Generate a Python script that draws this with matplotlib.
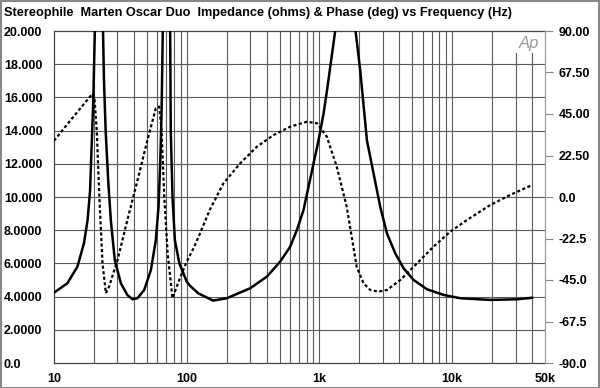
import matplotlib
matplotlib.use("Agg")
import matplotlib.pyplot as plt
from matplotlib.patches import Rectangle

# impedance (ohms)
imp_freq = [10, 12.6, 15, 16.8, 17.9, 18.7, 19.2, 19.8, 20.3, 21.7, 23.4, 23.8,
            24.5, 25.6, 26.8, 28.7, 31.9, 35.7, 39, 42.5, 47.8, 53.7, 58.5, 61.3,
            63.1, 64.6, 66, 70, 75, 75.8, 78.1, 81.4, 88, 100, 106, 122, 158, 200,
            300, 401, 505, 601, 675, 757, 826, 901, 983, 1072, 1148, 1313, 1570,
            1870, 2029, 2278, 2558, 2871, 3226, 3727, 4305, 5124, 6459, 8628,
            11500, 19400, 30900, 40000]
imp_ohms = [4.24, 4.8, 5.8, 7.2, 8.6, 10.4, 13, 16, 20, 32, 20, 17,
            14, 11, 8.6, 6.2, 4.8, 4.1, 3.84, 3.9, 4.4, 5.6, 7.4, 9.4,
            12, 15, 20, 32, 20, 14, 10, 7.4, 6.0, 4.9, 4.65, 4.2, 3.76, 3.9,
            4.5, 5.2, 6.1, 7.0, 8.0, 9.2, 10.6, 12, 13.4, 15, 16.6, 20, 30,
            20, 17.6, 13.4, 11.4, 9.4, 7.8, 6.6, 5.7, 5.0, 4.44, 4.1,
            3.9, 3.8, 3.84, 3.93]

# phase (deg)
ph_freq = [10, 13.4, 17.8, 19.5, 20.2, 21, 21.9, 23.2, 24.6, 26, 30.1, 35.7,
           42.6, 50.6, 58.5, 62, 64.6, 67.7, 71.8, 78.1, 87.8, 98.6, 114, 126,
           149, 189, 253, 338, 451, 601, 804, 957, 1136, 1350, 1604, 1906, 2149,
           2412, 2786, 3226, 4063, 5424, 7234, 9660, 12900, 19400, 27300, 40000]
ph_deg = [30.5, 41.8, 52.6, 56, 53, 36, 2, -36, -52.2, -48.6, -34.2, -12.5,
          9.2, 30.9, 48.1, 49, 36.3, 0.2, -30.5, -54.9, -45, -36, -26.9, -19.7,
          -7, 7.4, 18.3, 27.3, 33.6, 38.1, 40.8, 40, 32.7, 16.4, -5.3, -37.8, -46.8,
          -50.4, -51.3, -50.4, -45, -36, -26.9, -18.8, -12.5, -4.3, 1.1, 6.5]

x_ticks = [10, 100, 1000, 10000, 50000]
x_labels = ["10", "100", "1k", "10k", "50k"]
left_ticks = [0, 2, 4, 6, 8, 10, 12, 14, 16, 18, 20]
left_labels = ["0.0", "2.0000", "4.0000", "6.0000", "8.0000", "10.000", "12.000",
               "14.000", "16.000", "18.000", "20.000"]
right_ticks = [-90, -67.5, -45, -22.5, 0, 22.5, 45, 67.5, 90]
right_labels = ["-90.0", "-67.5", "-45.0", "-22.5", "0.0", "22.50", "45.00", "67.50", "90.00"]

plt.rcParams['font.family'] = ['Liberation Sans', 'DejaVu Sans']
plt.rcParams['font.weight'] = 'bold'

fig = plt.figure(figsize=(6, 3.88), dpi=100)
ax = fig.add_axes([54 / 600, 1 - 363 / 388, (545 - 54) / 600, (363 - 31) / 388])
ax.set_xscale('log')
ax.set_xlim(10, 50000)
ax.set_ylim(0, 20)

gc = '#5a5a5a'
# horizontal grid
for v in left_ticks[1:-1]:
    ax.axhline(v, color=gc, lw=0.8, zorder=1)
# vertical grid, 30k/40k lines stop under the logo
for dec in [10, 100, 1000, 10000]:
    for m in range(1, 10):
        f = dec * m
        if f <= 10 or f >= 50000:
            continue
        top = 0.933 if f >= 30000 else 1.0
        ax.axvline(f, ymax=top, color=gc, lw=0.8, zorder=1)

ax.plot(imp_freq, imp_ohms, color='black', lw=1.8, zorder=3)

ax.set_xticks(x_ticks)
ax.set_xticklabels(x_labels)
ax.xaxis.set_minor_locator(matplotlib.ticker.NullLocator())
ax.set_yticks(left_ticks)
ax.set_yticklabels(left_labels)
ax.tick_params(axis='x', length=0, pad=7, labelsize=9)
ax.tick_params(axis='y', length=0, pad=36, labelsize=9)
for t in ax.get_yticklabels():
    t.set_horizontalalignment('left')

for s in ['left', 'top', 'bottom']:
    ax.spines[s].set_color('#444444')
    ax.spines[s].set_linewidth(0.9)
ax.spines['right'].set_color('#999999')

ax2 = ax.twinx()
ax2.set_ylim(-90, 90)
ax2.plot(ph_freq, ph_deg, color='black', lw=1.6, ls=(0, (1.4, 1.1)), zorder=3)
ax2.set_yticks(right_ticks)
ax2.set_yticklabels(right_labels)
ax2.tick_params(axis='y', length=6, width=0.8, color='#888888', pad=4, labelsize=9)
for s in ['left', 'top', 'bottom']:
    ax2.spines[s].set_visible(False)
ax2.spines['right'].set_color('#999999')

ax.text(0.967, 0.985, "Ap", transform=ax.transAxes, ha='center', va='top',
        fontsize=12, style='italic', fontweight='light', color='#9a9a9a')

fig.text(4 / 600, 1 - 13 / 388, "Stereophile  Marten Oscar Duo  Impedance (ohms) & Phase (deg) vs Frequency (Hz)",
         ha='left', va='center', fontsize=9.2, fontweight='bold')

fig.patches.append(Rectangle((0.001, 0.001), 0.997, 0.996, transform=fig.transFigure,
                             fill=False, edgecolor='#888888', lw=1.5))

fig.savefig("out.png", dpi=100)
